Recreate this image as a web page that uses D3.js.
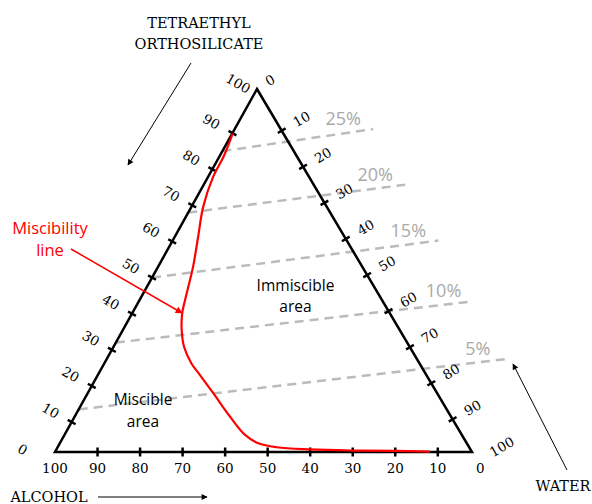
<!DOCTYPE html>
<html>
<head>
<meta charset="utf-8">
<script src="https://cdn.jsdelivr.net/npm/d3@7"></script>
<style>
  body { margin: 0; background: #fff; }
  svg { display: block; }
</style>
</head>
<body>
<div id="chart"></div>
<script>
// ternary diagram TEOS / water / alcohol
var axisTicks = [10, 20, 30, 40, 50, 60, 70, 80, 90];
var bottomLabels = [100, 90, 80, 70, 60, 50, 40, 30, 20, 10, 0];

// miscibility line: % TEOS and % water (alcohol = rest)
var curveTeos  = [87.8, 81.4, 75.8, 67.6, 59.3, 51.0, 41.9, 38.2, 33.6, 29.0, 24.4, 21.2, 16.2, 9.7, 4.7, 2.4, 1.3, 0.7, 0.4, 0.3, 0.1];
var curveWater = [0.1, 1.0, 1.2, 2.8, 5.6, 8.4, 10.9, 12.0, 14.1, 16.9, 20.9, 24.5, 30.1, 37.3, 43.3, 47.6, 52.5, 60.8, 71.4, 81.4, 89.9];

// dashed lines: label, start on the TEOS axis, crossing of the water axis
var isoLabels = ["25%", "20%", "15%", "10%", "5%"];
var isoStart  = [85, 68, 50, 32, 13.5];
var isoCross  = [13, 28, 43.5, 60, 76];

var W = 592, H = 504;
var apex = [257, 89], bl = [55, 452], br = [472, 452];

var svg = d3.select("#chart").append("svg")
    .attr("width", W).attr("height", H);

var defs = svg.append("defs");
function marker(id, col, len, wid) {
  defs.append("marker")
      .attr("id", id)
      .attr("viewBox", "0 0 10 10")
      .attr("refX", 9).attr("refY", 5)
      .attr("markerUnits", "userSpaceOnUse")
      .attr("markerWidth", len).attr("markerHeight", wid)
      .attr("orient", "auto")
    .append("path")
      .attr("d", "M0,0 L10,5 L0,10 Z")
      .attr("fill", col);
}
marker("arrowBlack", "#000", 7, 6);
marker("arrowRed", "#f00", 8, 7);

// projection of a composition onto the triangle
var teosY = d3.scaleLinear().domain([0, 100]).range([bl[1], apex[1]]);
var teosDx = d3.scaleLinear().domain([0, 100]).range([0, apex[0] - bl[0]]);
var waterDx = d3.scaleLinear().domain([0, 100]).range([0, br[0] - bl[0]]);
function tern(t, w) { return [bl[0] + teosDx(t) + waterDx(w), teosY(t)]; }

// axis scales: fraction along each edge (ticks in the figure are slightly shifted)
var leftPos = d3.scaleLinear().domain([0, 100]).range([-0.017, 0.978]);   // bl -> apex
var rightPos = d3.scaleLinear().domain([0, 100]).range([0.0155, 1.0094]); // apex -> br
var bottomX = d3.scaleLinear().domain([100, 0]).range([bl[0], bl[0] + 1.02 * (br[0] - bl[0])]);

function along(p0, p1, f) { return [p0[0] + (p1[0] - p0[0]) * f, p0[1] + (p1[1] - p0[1]) * f]; }
function dirOf(p0, p1) {
  var dx = p1[0] - p0[0], dy = p1[1] - p0[1], l = Math.sqrt(dx * dx + dy * dy);
  return [dx / l, dy / l];
}
var dLeft = dirOf(bl, apex), nLeft = [dLeft[1], -dLeft[0]];
var dRight = dirOf(apex, br), nRight = [dRight[1], -dRight[0]];

// ---- dashed iso lines
var isoG = svg.append("g");
isoLabels.forEach(function(lab, i) {
  var p0 = along(bl, apex, leftPos(isoStart[i]));
  var p1 = along(apex, br, rightPos(isoCross[i]));
  var slope = (p1[1] - p0[1]) / (p1[0] - p0[0]);
  var ext = 85;
  var p2 = [p1[0] + ext, p1[1] + slope * ext];
  isoG.append("line")
      .attr("x1", p0[0]).attr("y1", p0[1])
      .attr("x2", p2[0]).attr("y2", p2[1])
      .attr("stroke", "#bbbbbb")
      .attr("stroke-width", 2.5)
      .attr("stroke-dasharray", "9,6");
  isoG.append("text")
      .attr("x", p2[0] - 30).attr("y", p2[1] - 4)
      .attr("text-anchor", "middle")
      .attr("font-family", "Open Sans")
      .attr("font-size", "18px")
      .attr("fill", "#a9a9a9")
      .text(lab);
});

// ---- triangle
svg.append("path")
    .attr("d", d3.line()([apex, br, bl]) + "Z")
    .attr("fill", "none")
    .attr("stroke", "#000")
    .attr("stroke-width", 2.5)
    .attr("stroke-linejoin", "miter");

var tickG = svg.append("g").attr("stroke", "#000").attr("stroke-width", 2.5);
var labG = svg.append("g")
    .attr("font-family", "DejaVu Serif")
    .attr("font-size", "13.5px")
    .attr("fill", "#000")
    .attr("text-anchor", "middle")
    .attr("dominant-baseline", "central");
var tl = 4.5;

axisTicks.forEach(function(v) {
  // left (TEOS)
  var p = along(bl, apex, leftPos(v));
  tickG.append("line")
      .attr("x1", p[0] - nLeft[0] * tl).attr("y1", p[1] - nLeft[1] * tl)
      .attr("x2", p[0] + nLeft[0] * tl).attr("y2", p[1] + nLeft[1] * tl);
  var q = [p[0] + nLeft[0] * 24, p[1] + nLeft[1] * 24];
  labG.append("text")
      .attr("transform", "translate(" + q[0] + "," + q[1] + ") rotate(30)")
      .text(v);
  // right (water)
  p = along(apex, br, rightPos(v));
  tickG.append("line")
      .attr("x1", p[0] - nRight[0] * tl).attr("y1", p[1] - nRight[1] * tl)
      .attr("x2", p[0] + nRight[0] * tl).attr("y2", p[1] + nRight[1] * tl);
  q = [p[0] + nRight[0] * 23, p[1] + nRight[1] * 23];
  labG.append("text")
      .attr("transform", "translate(" + q[0] + "," + q[1] + ") rotate(-30)")
      .text(v);
  // bottom (alcohol)
  var x = bottomX(v);
  tickG.append("line")
      .attr("x1", x).attr("y1", bl[1] - tl)
      .attr("x2", x).attr("y2", bl[1] + tl);
});

bottomLabels.forEach(function(v) {
  labG.append("text")
      .attr("x", bottomX(v)).attr("y", bl[1] + 16)
      .text(v);
});

// end labels at the corners
function cornerLabel(vtx, n, d, on, od, rot, txt) {
  var q = [vtx[0] + n[0] * on + d[0] * od, vtx[1] + n[1] * on + d[1] * od];
  labG.append("text")
      .attr("transform", "translate(" + q[0] + "," + q[1] + ") rotate(" + rot + ")")
      .text(txt);
}
cornerLabel(bl, nLeft, dLeft, 29.5, -13.3, 30, "0");
cornerLabel(apex, nLeft, dLeft, 19.1, -4.1, 30, "100");
cornerLabel(apex, nRight, dRight, 15.8, -1.1, -30, "0");
cornerLabel(br, nRight, dRight, 28.3, 10.5, -30, "100");

// ---- miscibility line
var pts = curveTeos.map(function(t, i) { return tern(t, curveWater[i]); });
svg.append("path")
    .attr("d", d3.line().curve(d3.curveCatmullRom.alpha(0.5))(pts))
    .attr("fill", "none")
    .attr("stroke", "#ff0000")
    .attr("stroke-width", 2.2);

// ---- annotations
var serif = "DejaVu Serif";
var title = svg.append("g")
    .attr("font-family", serif).attr("font-size", "14.5px")
    .attr("text-anchor", "middle").attr("fill", "#000");
var tt = title.append("text").attr("x", 199).attr("y", 27.5);
tt.append("tspan").attr("x", 199).text("TETRAETHYL");
tt.append("tspan").attr("x", 199).attr("dy", 21.5).text("ORTHOSILICATE");
title.append("text").attr("x", 49).attr("y", 501.5).text("ALCOHOL");
title.append("text").attr("x", 563).attr("y", 491).text("WATER");

function arrow(a, b, col, w, m) {
  svg.append("line")
      .attr("x1", a[0]).attr("y1", a[1])
      .attr("x2", b[0]).attr("y2", b[1])
      .attr("stroke", col).attr("stroke-width", w)
      .attr("marker-end", "url(#" + m + ")");
}
arrow([191, 63], [128, 165], "#000", 1, "arrowBlack");
arrow([98, 497], [207, 497], "#000", 1, "arrowBlack");
arrow([567, 470], [513, 364], "#000", 1, "arrowBlack");
arrow([71, 249], [182, 313], "#f00", 1.5, "arrowRed");

var sans = svg.append("g")
    .attr("font-family", "Open Sans")
    .attr("text-anchor", "middle");
function twoLines(x, y, dy, size, col, a, b) {
  var t = sans.append("text").attr("x", x).attr("y", y)
      .attr("font-size", size).attr("fill", col);
  t.append("tspan").attr("x", x).text(a);
  t.append("tspan").attr("x", x).attr("dy", dy).text(b);
}
twoLines(50, 234, 22, "16.5px", "#f00", "Miscibility", "line");
twoLines(295.5, 291, 21, "15.5px", "#000", "Immiscible", "area");
twoLines(143, 405, 21.5, "15.5px", "#000", "Miscible", "area");
</script>
</body>
</html>
